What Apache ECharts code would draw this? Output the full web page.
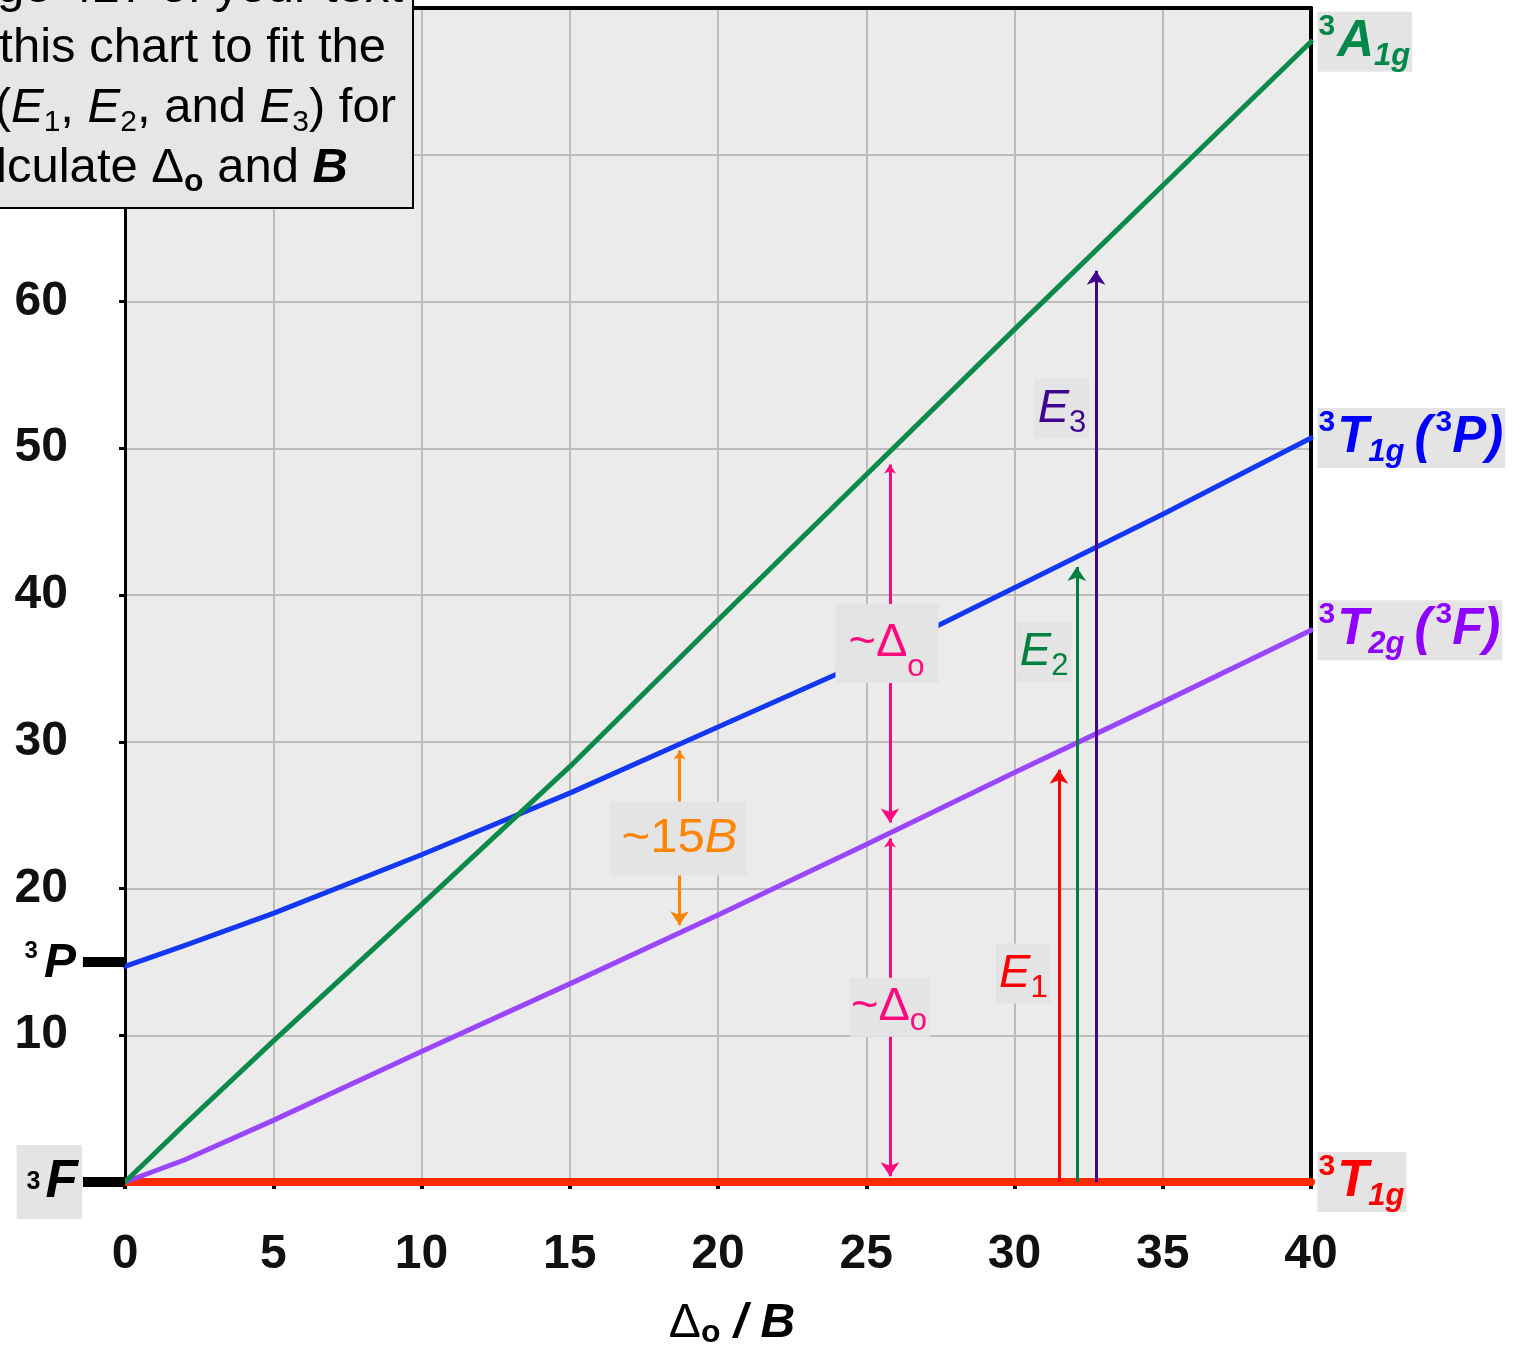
<!DOCTYPE html>
<html><head><meta charset="utf-8">
<script src="https://cdn.jsdelivr.net/npm/echarts@6/dist/echarts.min.js"></script>
<style>html,body{margin:0;padding:0;background:#fff}#c{width:1520px;height:1352px}</style>
</head><body><div id="c"></div>
<script>
// ---------- data ----------
const deltaOverB = [0, 2, 5, 10, 15, 20, 25, 30, 35, 40];
const a1g  = [0, 3.9, 9.6, 18.9, 28.3, 38.3, 48.2, 58.1, 67.9, 77.7];
const t1gP = [14.7, 16.1, 18.3, 22.3, 26.5, 31.0, 35.5, 40.5, 45.5, 50.7];
const t2gF = [0, 1.5, 4.2, 8.9, 13.5, 18.2, 23.0, 27.9, 32.7, 37.6];
const t1gF = [0, 0, 0, 0, 0, 0, 0, 0, 0, 0];
const freeIonTerms = ['P', 'F'];
const freeIonEnergy = [15, 0];
const transitionNames = ['1', '2', '3'];
const transitionX = [31.5, 32.1, 32.75];
const transitionTop = [28.1, 41.9, 62.1];
const deltaArrowX = 25.8;
const deltaUpper = [48.9, 24.5];
const deltaLower = [23.4, 0.4];
const fifteenBX = 18.7;
const fifteenB = [29.4, 17.5];
const xMin = 0, xMax = 40, xStep = 5;
const yMin = 0, yMax = 80, yStep = 10;

// ---------- styling ----------
const FF = '"Liberation Sans", Arial, Helvetica, sans-serif';
const C = {
  green: '#0b8a4c', greenLbl: '#00884a',
  blue: '#1238f5', blueLbl: '#0000ff',
  purple: '#9a45ff', purpleLbl: '#8f00ff',
  red: '#ff2a00', redLbl: '#ff0000',
  pink: '#ff0a7e', orange: '#ff8400', indigo: '#3f058f', e2: '#00803f',
  box: '#e4e4e4', plot: '#ebebeb', grid: '#bcbcbc'
};
const pts = ys => deltaOverB.map((x, i) => [x, ys[i]]);

function termRich(color) {
  return {
    m: { fontFamily: FF, fontSize: 51, fontWeight: 'bold', fontStyle: 'italic', color, lineHeight: 60, verticalAlign: 'middle' },
    p: { fontFamily: FF, fontSize: 51, fontWeight: 'bold', fontStyle: 'italic', color, lineHeight: 60, verticalAlign: 'middle', padding: [0, 0, 0, 10] },
    u: { fontFamily: FF, fontSize: 30, fontWeight: 'bold', color, lineHeight: 38, verticalAlign: 'top', padding: [0, 2, 0, 0] },
    v: { fontFamily: FF, fontSize: 30, fontWeight: 'bold', color, lineHeight: 38, verticalAlign: 'top', padding: [0, 0, 0, 4] },
    s: { fontFamily: FF, fontSize: 31, fontWeight: 'bold', fontStyle: 'italic', color, lineHeight: 24, verticalAlign: 'bottom' }
  };
}
function rightLabel(text, color) {
  return { show: true, position: 'right', distance: 6, formatter: text, rich: termRich(color),
           backgroundColor: C.box, padding: [0, 2, 0, 1], lineHeight: 60 };
}
function eLabel(sub, color) {
  return { show: true, position: 'inside', formatter: '{e|E}{s|' + sub + '}', backgroundColor: C.box, padding: [0, 3, 0, 3],
    rich: {
      e: { fontFamily: FF, fontSize: 47, fontStyle: 'italic', color, lineHeight: 60, verticalAlign: 'middle' },
      s: { fontFamily: FF, fontSize: 31, color, lineHeight: 21, verticalAlign: 'bottom' }
    } };
}
function deltaLabel(lh, subLh, pad) {
  return { show: true, position: 'inside', formatter: '{m|~Δ}{s|o}', backgroundColor: C.box, padding: pad,
    rich: {
      m: { fontFamily: FF, fontSize: 47, color: C.pink, lineHeight: lh, verticalAlign: 'middle' },
      s: { fontFamily: FF, fontSize: 31, color: C.pink, lineHeight: subLh, verticalAlign: 'bottom' }
    } };
}
function arrowSeries(x, y1, y2, color, both) {
  return { type: 'lines', coordinateSystem: 'cartesian2d', z: 4, silent: true,
    symbol: both ? ['arrow', 'arrow'] : ['none', 'arrow'], symbolSize: [9, 14],
    lineStyle: { color, width: 3, opacity: 1 },
    data: [{ coords: [[x, y1], [x, y2]] }] };
}
const lineSeries = (ys, color, width) => ({
  type: 'line', data: pts(ys), showSymbol: false, symbol: 'none', z: 3, silent: true,
  lineStyle: { color, width, cap: 'round', join: 'round' }
});
const frameAxis = {
  axisLine: { show: true, onZero: false, lineStyle: { color: '#000', width: 4 } },
  axisTick: { show: false }, axisLabel: { show: false }, splitLine: { show: false }
};

const chart = echarts.init(document.getElementById('c'), null, { renderer: 'canvas' });
const last = a => a[a.length - 1];
const tickX = -1.42;

chart.setOption({
  animation: false,
  backgroundColor: '#ffffff',
  grid: { left: 125, right: 209, top: 8, bottom: 170, show: true, backgroundColor: C.plot,
          borderColor: '#000', borderWidth: 0, containLabel: false, outerBoundsMode: 'none' },
  xAxis: [{
    type: 'value', min: xMin, max: xMax, interval: xStep,
    axisLine: { show: true, onZero: false, lineStyle: { color: '#000', width: 3 } },
    axisTick: { show: true, length: 7, lineStyle: { color: '#000', width: 4 } },
    splitLine: { show: true, lineStyle: { color: C.grid, width: 2 } },
    axisLabel: { fontFamily: FF, fontSize: 48, fontWeight: 'bold', color: '#111', margin: 49, hideOverlap: false,
                 showMinLabel: true, showMaxLabel: true },
    name: '{d|Δ}{o|o}{b| / B}', nameLocation: 'middle', nameGap: 117,
    nameTextStyle: { padding: [0, 0, 0, 28],
      rich: {
        d: { fontFamily: FF, fontSize: 48, color: '#000', lineHeight: 50, verticalAlign: 'middle' },
        o: { fontFamily: FF, fontSize: 32, fontWeight: 'bold', color: '#000', lineHeight: 22, verticalAlign: 'bottom' },
        b: { fontFamily: FF, fontSize: 48, fontWeight: 'bold', fontStyle: 'italic', color: '#000', lineHeight: 50, verticalAlign: 'middle' }
      } }
  }, Object.assign({ type: 'value', position: 'top', min: xMin, max: xMax, interval: xStep }, frameAxis)],
  yAxis: [{
    type: 'value', min: yMin, max: yMax, interval: yStep,
    axisLine: { show: true, onZero: false, lineStyle: { color: '#000', width: 3 } },
    axisTick: { show: true, length: 6, lineStyle: { color: '#000', width: 3 } },
    splitLine: { show: true, lineStyle: { color: C.grid, width: 2 } },
    axisLabel: { fontFamily: FF, fontSize: 48, fontWeight: 'bold', color: '#111', margin: 57,
                 formatter: v => (v === 0 || v >= 70) ? '' : String(v) }
  }, Object.assign({ type: 'value', position: 'right', min: yMin, max: yMax, interval: yStep }, frameAxis)],
  series: [
    lineSeries(t1gF, C.red, 8),
    lineSeries(t2gF, C.purple, 5),
    lineSeries(t1gP, C.blue, 5),
    lineSeries(a1g, C.green, 5),
    arrowSeries(deltaArrowX, deltaUpper[0], deltaUpper[1], C.pink, true),
    arrowSeries(deltaArrowX, deltaLower[0], deltaLower[1], C.pink, true),
    arrowSeries(fifteenBX, fifteenB[0], fifteenB[1], C.orange, true),
    arrowSeries(transitionX[0], 0, transitionTop[0], C.redLbl, false),
    arrowSeries(transitionX[1], 0, transitionTop[1], C.e2, false),
    arrowSeries(transitionX[2], 0, transitionTop[2], C.indigo, false),
    { type: 'scatter', symbol: 'circle', symbolSize: 1, z: 10, clip: false, silent: true,
      itemStyle: { color: 'rgba(0,0,0,0)', opacity: 1 },
      data: [
        { value: [xMax, last(a1g)], label: rightLabel('{u|3}{m|A}{s|1g}', C.greenLbl) },
        { value: [xMax, last(t1gP)], label: rightLabel('{u|3}{m|T}{s|1g}{p|(}{v|3}{m|P)}', C.blueLbl) },
        { value: [xMax, last(t2gF)], label: rightLabel('{u|3}{m|T}{s|2g}{p|(}{v|3}{m|F)}', C.purpleLbl) },
        { value: [xMax, last(t1gF)], label: rightLabel('{u|3}{m|T}{s|1g}', C.redLbl) },
        { value: [25.7, 36.7], label: deltaLabel(79, 41, [0, 14, 0, 13]) },
        { value: [25.8, 11.9], label: deltaLabel(59, 19, [0, 3, 0, 1]) },
        { value: [18.65, 23.4], label: { show: true, position: 'inside', formatter: '{m|~15}{i|B}', backgroundColor: C.box,
            padding: [0, 9, 0, 12],
            rich: {
              m: { fontFamily: FF, fontSize: 49, color: C.orange, lineHeight: 74, verticalAlign: 'middle' },
              i: { fontFamily: FF, fontSize: 49, fontStyle: 'italic', color: C.orange, lineHeight: 74, verticalAlign: 'middle' }
            } } },
        { value: [30.3, 14.2], label: eLabel(transitionNames[0], C.redLbl) },
        { value: [31.0, 36.1], label: eLabel(transitionNames[1], C.e2) },
        { value: [31.6, 52.7], label: eLabel(transitionNames[2], C.indigo) }
      ] }
  ]
});

// free-ion term markers (placed through the chart's own scales) and the instruction box
const px = (x, y) => chart.convertToPixel({ gridIndex: 0 }, [x, y]);
const pP0 = px(tickX, freeIonEnergy[0]), pP1 = px(xMin, freeIonEnergy[0]);
const pF0 = px(tickX, freeIonEnergy[1]), pF1 = px(xMin, freeIonEnergy[1]);
const richP = {
  m: { fontFamily: FF, fontSize: 48, fontWeight: 'bold', fontStyle: 'italic', fill: '#000', lineHeight: 50, verticalAlign: 'middle' },
  u: { fontFamily: FF, fontSize: 24, fontWeight: 'bold', fill: '#000', lineHeight: 46, verticalAlign: 'top', padding: [0, 6, 0, 0] }
};
const richF = {
  m: { fontFamily: FF, fontSize: 53, fontWeight: 'bold', fontStyle: 'italic', fill: '#000', lineHeight: 74, verticalAlign: 'middle' },
  u: { fontFamily: FF, fontSize: 25, fontWeight: 'bold', fill: '#000', lineHeight: 74, verticalAlign: 'middle', padding: [0, 5, 0, 0] }
};
const textRich = {
  n: { fontFamily: FF, fontSize: 49, fill: '#000', lineHeight: 60, verticalAlign: 'middle' },
  i: { fontFamily: FF, fontSize: 49, fontStyle: 'italic', fill: '#000', lineHeight: 60, verticalAlign: 'middle' },
  s: { fontFamily: FF, fontSize: 30, fill: '#000', lineHeight: 22, verticalAlign: 'bottom' },
  b: { fontFamily: FF, fontSize: 32, fontWeight: 'bold', fill: '#000', lineHeight: 20, verticalAlign: 'bottom' },
  bi: { fontFamily: FF, fontSize: 49, fontWeight: 'bold', fontStyle: 'italic', fill: '#000', lineHeight: 60, verticalAlign: 'middle' }
};
chart.setOption({
  graphic: [
    { type: 'line', z: 50, shape: { x1: pP0[0], y1: pP0[1], x2: pP1[0], y2: pP1[1] }, style: { stroke: '#000', lineWidth: 10 } },
    { type: 'line', z: 50, shape: { x1: pF0[0], y1: pF0[1], x2: pF1[0], y2: pF1[1] }, style: { stroke: '#000', lineWidth: 10 } },
    { type: 'text', z: 50, x: pP0[0] - 7, y: pP0[1] + 2,
      style: { text: '{u|3}{m|' + freeIonTerms[0] + '}', align: 'right', verticalAlign: 'middle', rich: richP } },
    { type: 'text', z: 50, x: pF0[0] - 1, y: pF0[1],
      style: { text: '{u|3}{m|' + freeIonTerms[1] + '}', align: 'right', verticalAlign: 'middle',
               backgroundColor: C.box, padding: [0, 4, 0, 10], rich: richF } },
    { type: 'rect', z: 100, shape: { x: -10, y: -10, width: 423, height: 218 },
      style: { fill: '#e6e6e6', stroke: '#000', lineWidth: 2 } },
    ...[
      { y: -12, x: 403, t: '{n|on page 427 of your text}' },
      { y: 48, x: 386, t: '{n|Adjust this chart to fit the}' },
      { y: 108, x: 396, t: '{n|transitions (}{i|E}{s|1}{n|, }{i|E}{s|2}{n|, and }{i|E}{s|3}{n|) for}' },
      { y: 168, x: 348, t: '{n|and calculate Δ}{b|o}{n| and }{bi|B}' }
    ].map(l => ({
      type: 'text', z: 101, x: l.x, y: l.y,
      style: { text: l.t, align: 'right', verticalAlign: 'middle', fill: '#000', rich: textRich }
    }))
  ]
});
</script></body></html>
